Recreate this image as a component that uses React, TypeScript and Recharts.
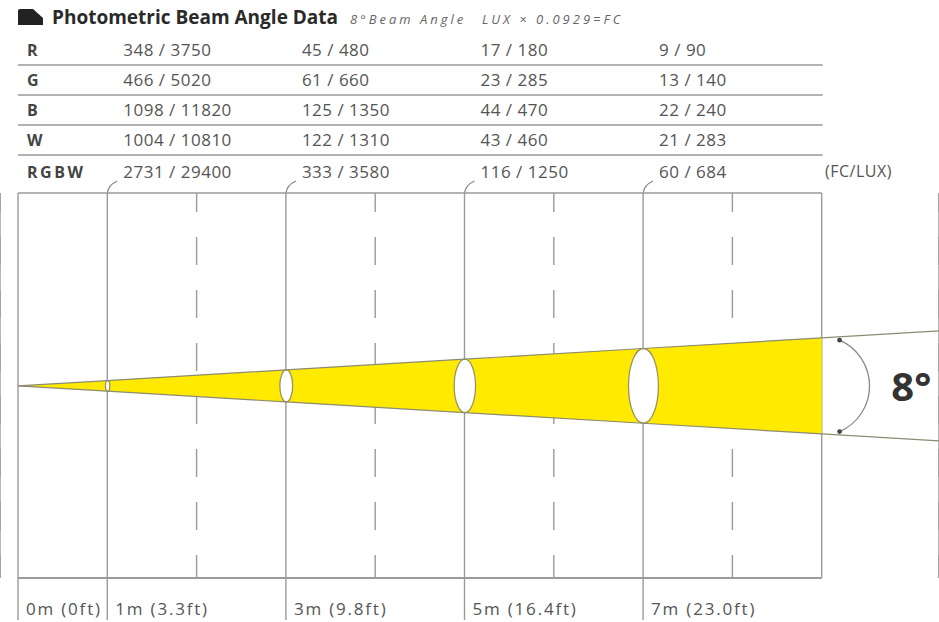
import React from 'react';
import {
  ComposedChart,
  XAxis,
  YAxis,
  Area,
  Line,
  Bar,
  CartesianGrid,
  ReferenceLine,
  ReferenceDot,
} from 'recharts';

// ---------------- data ----------------
const titleText = 'Photometric Beam Angle Data';
const subtitleAngle = '8°Beam Angle';
const subtitleFormula = 'LUX × 0.0929=FC';
const unitLabel = '(FC/LUX)';
const beamAngleLabel = '8°';

// distance from fixture (m) and beam spot diameter (m)
const distances = [0, 1, 3, 5, 7, 9, 10.5];
const beamDiameters = [0, 0.14, 0.42, 0.7, 0.98, 1.26, 1.47];
const boxEnd = 9;
const spotDistances = [1, 3, 5, 7];

const solidGridDistances = [0, 1, 3, 5, 7, 9];
const dashedGridDistances = [2, 4, 6, 8];
const tickDistances = [0, 1, 3, 5, 7];
const tickLabels = ['0m (0ft)', '1m (3.3ft)', '3m (9.8ft)', '5m (16.4ft)', '7m (23.0ft)'];

const tableDistances = [1, 3, 5, 7];
const rowLabels = ['R', 'G', 'B', 'W', 'RGBW'];
const rFc = [348, 45, 17, 9];
const rLux = [3750, 480, 180, 90];
const gFc = [466, 61, 23, 13];
const gLux = [5020, 660, 285, 140];
const bFc = [1098, 125, 44, 22];
const bLux = [11820, 1350, 470, 240];
const wFc = [1004, 122, 43, 21];
const wLux = [10810, 1310, 460, 283];
const rgbwFc = [2731, 333, 116, 60];
const rgbwLux = [29400, 3580, 1250, 684];

// angle marker (m)
const arcDistance = 9.2;
const arcHalf = 0.6;
const angleLabelDistance = 9.78;

// ---------------- layout ----------------
const W = 939;
const H = 622;
const X0 = 18;
const PX_PER_M = 89.3;
const PLOT_TOP = 193;
const PLOT_BOTTOM = 578;
const xDomain: [number, number] = [-X0 / PX_PER_M, (W - X0) / PX_PER_M];
const yDomain: [number, number] = [-2.52, 2.53];
const FONT = '"Open Sans", "DejaVu Sans", sans-serif';
const GRID = '#9a9a9a';
const TEXT = '#555';

const tableRows = [
  { label: rowLabels[0], fc: rFc, lux: rLux },
  { label: rowLabels[1], fc: gFc, lux: gLux },
  { label: rowLabels[2], fc: bFc, lux: bLux },
  { label: rowLabels[3], fc: wFc, lux: wLux },
  { label: rowLabels[4], fc: rgbwFc, lux: rgbwLux },
];

const chartData = distances.map((d, i) => {
  const h = beamDiameters[i] / 2;
  return {
    d,
    beam: d <= boxEnd ? [-h, h] : null,
    top: h,
    bottom: -h,
    spot: spotDistances.includes(d) ? [-h, h] : null,
  };
});

const colX = (d: number) => X0 + d * PX_PER_M;

const SpotShape = (props: any) => {
  const { x, y, width, height } = props;
  if (x == null || y == null || height == null) return null;
  const hh = Math.abs(height);
  const top = Math.min(y, y + height);
  const cx = x + width / 2;
  const cy = top + hh / 2;
  const ry = hh / 2;
  const rx = Math.max(ry * 0.4, 1.5);
  return <ellipse cx={cx} cy={cy} rx={rx} ry={ry} fill="#ffffff" stroke="#9a9464" strokeWidth={1.3} />;
};

const ArcShape = (props: any) => {
  const { x1, y1, x2, y2 } = props;
  if (x1 == null) return null;
  const c = Math.abs(y2 - y1);
  const s = 30;
  const r = (c * c / 4 + s * s) / (2 * s);
  return (
    <g>
      <path d={`M ${x1} ${y1} A ${r} ${r} 0 0 1 ${x2} ${y2}`} fill="none" stroke="#888" strokeWidth={1.3} />
      <circle cx={x1} cy={y1} r={2.4} fill="#444" />
      <circle cx={x2} cy={y2} r={2.4} fill="#444" />
    </g>
  );
};

const AngleText = (props: any) => {
  const { cx, cy } = props;
  if (cx == null) return null;
  return (
    <text x={cx} y={cy} dominantBaseline="central" fontFamily={FONT} fontWeight={700} fontSize={40} fill="#333">
      {beamAngleLabel}
    </text>
  );
};

const Tick = (props: any) => {
  const { x, y, payload } = props;
  const i = tickDistances.indexOf(payload.value);
  return (
    <text
      x={x + 8}
      y={y - 14}
      dominantBaseline="central"
      fontFamily={FONT}
      fontSize={17}
      fill={TEXT}
      style={{ letterSpacing: '1.8px' }}
    >
      {tickLabels[i]}
    </text>
  );
};

export default function App() {
  return (
    <div style={{ position: 'absolute', left: 0, top: 0, width: W, height: H, background: '#fff', overflow: 'hidden', fontFamily: FONT }}>
      {/* header */}
      <svg width={30} height={20} style={{ position: 'absolute', left: 16, top: 7 }}>
        <path d="M2 18 L2 4 Q2 2 4 2 L17 2 L27 11 L27 18 Z" fill="#222" />
      </svg>
      <div style={{ position: 'absolute', left: 52, top: 4, fontSize: 19, fontWeight: 700, color: '#2a2a2a', whiteSpace: 'nowrap', lineHeight: '26px' }}>
        {titleText}
      </div>
      <div style={{ position: 'absolute', left: 350, top: 9, fontSize: 13, fontStyle: 'italic', color: '#666', whiteSpace: 'nowrap', lineHeight: '20px', letterSpacing: '3px' }}>
        {subtitleAngle}
      </div>
      <div style={{ position: 'absolute', left: 482, top: 9, fontSize: 13, fontStyle: 'italic', color: '#666', whiteSpace: 'nowrap', lineHeight: '20px', letterSpacing: '3px' }}>
        {subtitleFormula}
      </div>

      {/* table lines and curved leaders */}
      <svg width={W} height={PLOT_TOP + 2} style={{ position: 'absolute', left: 0, top: 0 }}>
        {tableRows.slice(0, 4).map((_, i) => (
          <line key={i} x1={X0} x2={colX(boxEnd) + 1} y1={65 + 30 * i} y2={65 + 30 * i} stroke={GRID} strokeWidth={1.4} />
        ))}
        {tableDistances.map((d) => (
          <path
            key={d}
            d={`M ${colX(d)} ${PLOT_TOP} Q ${colX(d) + 1} ${PLOT_TOP - 8} ${colX(d) + 10} ${PLOT_TOP - 12}`}
            fill="none"
            stroke="#888"
            strokeWidth={1.2}
          />
        ))}
      </svg>

      {/* table text */}
      {tableRows.map((row, i) => (
        <React.Fragment key={row.label}>
          <div
            style={{
              position: 'absolute',
              left: 27,
              top: 38 + 30 * i + (i === 4 ? 2 : 0),
              fontSize: 16,
              fontWeight: 700,
              color: '#444',
              lineHeight: '24px',
              letterSpacing: row.label.length > 1 ? '2.5px' : '0px',
              whiteSpace: 'nowrap',
            }}
          >
            {row.label}
          </div>
          {tableDistances.map((d, j) => (
            <div
              key={d}
              style={{
                position: 'absolute',
                left: colX(d) + 16,
                top: 38 + 30 * i + (i === 4 ? 2 : 0),
                fontSize: 17,
                color: TEXT,
                lineHeight: '24px',
                letterSpacing: '0.5px',
                whiteSpace: 'nowrap',
              }}
            >
              {`${row.fc[j]} / ${row.lux[j]}`}
            </div>
          ))}
        </React.Fragment>
      ))}
      <div style={{ position: 'absolute', left: 825, top: 159, fontSize: 16, color: TEXT, lineHeight: '24px', letterSpacing: '0.5px', whiteSpace: 'nowrap' }}>
        {unitLabel}
      </div>

      {/* beam diagram */}
      <div style={{ position: 'absolute', left: 0, top: 0 }}>
        <ComposedChart width={W} height={H} data={chartData} margin={{ top: PLOT_TOP, right: 0, bottom: 0, left: 0 }}>
          <XAxis
            dataKey="d"
            type="number"
            domain={xDomain}
            allowDataOverflow
            ticks={tickDistances}
            interval={0}
            height={H - PLOT_BOTTOM}
            axisLine={false}
            tickLine={{ stroke: GRID, strokeWidth: 1.4 }}
            tickSize={42}
            tick={<Tick />}
          />
          <XAxis xAxisId="solid" dataKey="d" type="number" domain={xDomain} allowDataOverflow ticks={solidGridDistances} hide />
          <XAxis xAxisId="dashed" dataKey="d" type="number" domain={xDomain} allowDataOverflow ticks={dashedGridDistances} hide />
          <YAxis hide type="number" domain={yDomain} allowDataOverflow />
          <CartesianGrid xAxisId="solid" horizontal={false} stroke={GRID} strokeWidth={1.4} />
          <CartesianGrid xAxisId="dashed" horizontal={false} stroke={GRID} strokeWidth={1.4} strokeDasharray="28 25" strokeDashoffset={9} />
          <ReferenceLine segment={[{ x: 0, y: yDomain[1] }, { x: boxEnd, y: yDomain[1] }]} stroke={GRID} strokeWidth={1.4} />
          <ReferenceLine segment={[{ x: 0, y: yDomain[0] }, { x: boxEnd, y: yDomain[0] }]} stroke={GRID} strokeWidth={1.8} />
          <Area type="linear" dataKey="beam" stroke="none" fill="#ffea00" fillOpacity={1} isAnimationActive={false} />
          <Line type="linear" dataKey="top" stroke="#8d8b70" strokeWidth={1.2} dot={false} isAnimationActive={false} />
          <Line type="linear" dataKey="bottom" stroke="#8d8b70" strokeWidth={1.2} dot={false} isAnimationActive={false} />
          <Bar dataKey="spot" barSize={10} shape={<SpotShape />} isAnimationActive={false} />
          <ReferenceLine
            segment={[{ x: arcDistance, y: arcHalf }, { x: arcDistance, y: -arcHalf }]}
            shape={<ArcShape />}
          />
          <ReferenceDot x={angleLabelDistance} y={0} r={0} shape={<AngleText />} />
        </ComposedChart>
      </div>
    </div>
  );
}
